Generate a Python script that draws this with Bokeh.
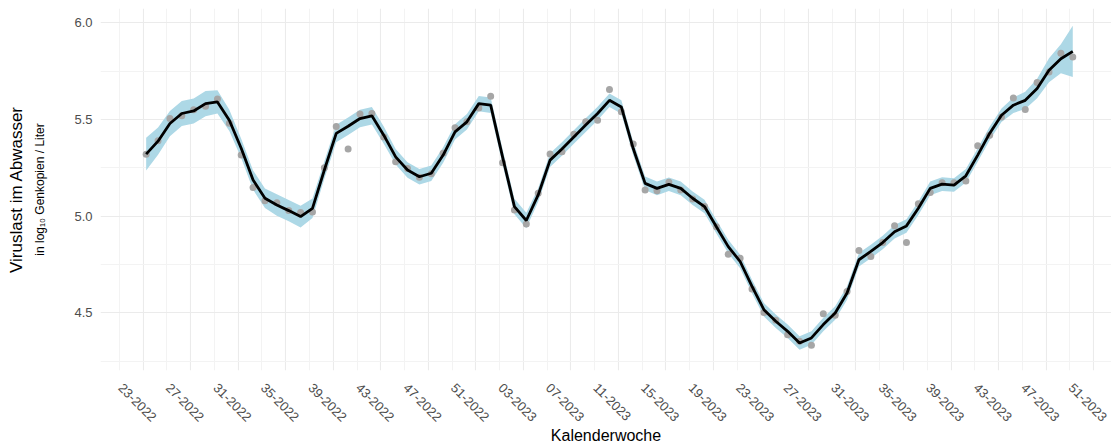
import math
from bokeh.plotting import figure
from bokeh.models import Range1d, LinearAxis, FixedTicker, Grid
from bokeh.embed import file_html
from bokeh.resources import INLINE

# ---- data ----
week_index = list(range(79))          # weeks since 23-2022
sample_offset = 0.25                  # samples taken mid-week

measured = [5.320, 5.390, 5.505, 5.519, 5.550, 5.569, 5.606, 5.480, 5.316, 5.149,
            5.080, 5.070, 5.029, 5.019, 5.022, 5.250, 5.464, 5.347, 5.529, 5.531,
            5.410, 5.281, 5.247, 5.202, 5.219, 5.325, 5.457, 5.488, 5.560, 5.620,
            5.276, 5.032, 4.960, 5.119, 5.321, 5.333, 5.424, 5.488, 5.496, 5.655,
            5.540, 5.373, 5.136, 5.132, 5.175, 5.136, 5.089, 5.050, 4.946, 4.804,
            4.783, 4.624, 4.503, 4.462, 4.388, 4.354, 4.333, 4.496, 4.488, 4.611,
            4.823, 4.792, 4.864, 4.951, 4.864, 5.065, 5.122, 5.173, 5.173, 5.182,
            5.364, 5.419, 5.513, 5.611, 5.552, 5.691, 5.745, 5.843, 5.823]

fit = [5.321, 5.388, 5.479, 5.531, 5.544, 5.582, 5.591, 5.496, 5.351, 5.187,
       5.093, 5.058, 5.029, 4.998, 5.041, 5.239, 5.428, 5.465, 5.505, 5.519,
       5.419, 5.307, 5.239, 5.204, 5.222, 5.316, 5.436, 5.488, 5.582, 5.574,
       5.307, 5.050, 4.978, 5.110, 5.290, 5.347, 5.410, 5.471, 5.531, 5.599,
       5.565, 5.350, 5.170, 5.144, 5.165, 5.144, 5.093, 5.050, 4.946, 4.843,
       4.766, 4.637, 4.517, 4.457, 4.405, 4.345, 4.371, 4.440, 4.500, 4.603,
       4.775, 4.818, 4.864, 4.920, 4.950, 5.041, 5.144, 5.166, 5.161, 5.209,
       5.316, 5.428, 5.522, 5.574, 5.599, 5.660, 5.754, 5.814, 5.852]

band = [0.085, 0.070, 0.065, 0.065, 0.065, 0.065, 0.060, 0.055, 0.050, 0.050,
        0.050, 0.055, 0.055, 0.056, 0.050, 0.045, 0.045, 0.045, 0.045, 0.045,
        0.045, 0.040, 0.040, 0.040, 0.040, 0.040, 0.040, 0.040, 0.040, 0.040,
        0.040, 0.040, 0.040, 0.035, 0.035, 0.035, 0.035, 0.035, 0.035, 0.035,
        0.035, 0.035, 0.035, 0.035, 0.035, 0.035, 0.035, 0.035, 0.035, 0.035,
        0.035, 0.035, 0.035, 0.035, 0.035, 0.035, 0.035, 0.035, 0.035, 0.035,
        0.035, 0.035, 0.035, 0.035, 0.035, 0.035, 0.035, 0.035, 0.035, 0.035,
        0.035, 0.035, 0.035, 0.040, 0.045, 0.050, 0.062, 0.075, 0.132]

tick_weeks = [0, 4, 8, 12, 16, 20, 24, 28, 32, 36, 40, 44, 48, 52, 56, 60, 64, 68, 72, 76, 80]
tick_labels = ["23-2022", "27-2022", "31-2022", "35-2022", "39-2022", "43-2022", "47-2022",
               "51-2022", "03-2023", "07-2023", "11-2023", "15-2023", "19-2023", "23-2023",
               "27-2023", "31-2023", "35-2023", "39-2023", "43-2023", "47-2023", "51-2023"]
minor_weeks = [-2, 2, 6, 10, 14, 18, 22, 26, 30, 34, 38, 42, 46, 50, 54, 58, 62, 66, 70, 74, 78, 82]

y_ticks = [4.5, 5.0, 5.5, 6.0]
y_tick_labels = ["4.5", "5.0", "5.5", "6.0"]
y_minor = [4.25, 4.75, 5.25, 5.75]

# ---- derived ----
x = [w + sample_offset for w in week_index]
lower = [f - b for f, b in zip(fit, band)]
upper = [f + b for f, b in zip(fit, band)]

FONT = "Liberation Sans"
X0, X1 = -3.594, 81.51
SHIFT = 1.9

p = figure(width=1111, height=446, output_backend="svg", toolbar_location=None,
           x_range=Range1d(X0, X1), y_range=Range1d(4.2026, 6.0737),
           x_axis_location=None, y_axis_location=None,
           min_border_left=100, min_border_right=0, min_border_top=8, min_border_bottom=75)
p.outline_line_color = None
p.background_fill_color = "white"
p.border_fill_color = "white"
p.center = [r for r in p.center if not isinstance(r, Grid)]

xt = FixedTicker(ticks=tick_weeks, minor_ticks=minor_weeks)
yt = FixedTicker(ticks=y_ticks, minor_ticks=y_minor)
for dim, tk in ((0, xt), (1, yt)):
    g = Grid(dimension=dim, ticker=tk, grid_line_color="#EBEBEB", grid_line_width=1.1,
             minor_grid_line_color="#F3F3F3", minor_grid_line_width=1)
    p.add_layout(g, "center")

# x labels (separate shifted range so rotated labels sit like the reference)
p.extra_x_ranges = {"lab": Range1d(X0 + SHIFT, X1 + SHIFT)}
xa = LinearAxis(x_range_name="lab", ticker=FixedTicker(ticks=tick_weeks),
                major_label_overrides={t: l for t, l in zip(tick_weeks, tick_labels)},
                major_label_orientation=-math.pi / 4,
                axis_line_color=None, major_tick_line_color=None, minor_tick_line_color=None,
                major_tick_out=0, major_tick_in=0, major_label_standoff=15,
                major_label_text_font=FONT, major_label_text_font_size="13px",
                major_label_text_color="#4D4D4D",
                axis_label="Kalenderwoche", axis_label_standoff=-2,
                axis_label_text_font=FONT, axis_label_text_font_size="16px",
                axis_label_text_font_style="normal", axis_label_text_color="black")
p.add_layout(xa, "below")

ya = LinearAxis(ticker=FixedTicker(ticks=y_ticks),
                major_label_overrides={t: l for t, l in zip(y_ticks, y_tick_labels)},
                axis_line_color=None, major_tick_line_color=None, minor_tick_line_color=None,
                major_tick_out=0, major_tick_in=0, major_label_standoff=8,
                major_label_text_font=FONT, major_label_text_font_size="13px",
                major_label_text_color="#4D4D4D",
                axis_label="in log₁₀ Genkopien / Liter", axis_label_standoff=24,
                axis_label_text_font=FONT, axis_label_text_font_size="12px",
                axis_label_text_font_style="normal", axis_label_text_color="black")
p.add_layout(ya, "left")

ya2 = LinearAxis(ticker=FixedTicker(ticks=[]),
                 axis_line_color=None, major_tick_line_color=None, minor_tick_line_color=None,
                 major_tick_out=0, major_tick_in=0, major_label_standoff=0,
                 axis_label="Viruslast im Abwasser", axis_label_standoff=5,
                 axis_label_text_font=FONT, axis_label_text_font_size="17px",
                 axis_label_text_font_style="normal", axis_label_text_color="black")
p.add_layout(ya2, "left")

p.varea(x=x, y1=lower, y2=upper, fill_color="#ADD8E6", fill_alpha=1.0)
p.scatter(x=x, y=measured, size=7, fill_color="#A6A6A6", line_color=None)
p.line(x=x, y=fit, line_width=2.8, line_color="black")

open("out.html", "w").write(file_html(p, INLINE))
